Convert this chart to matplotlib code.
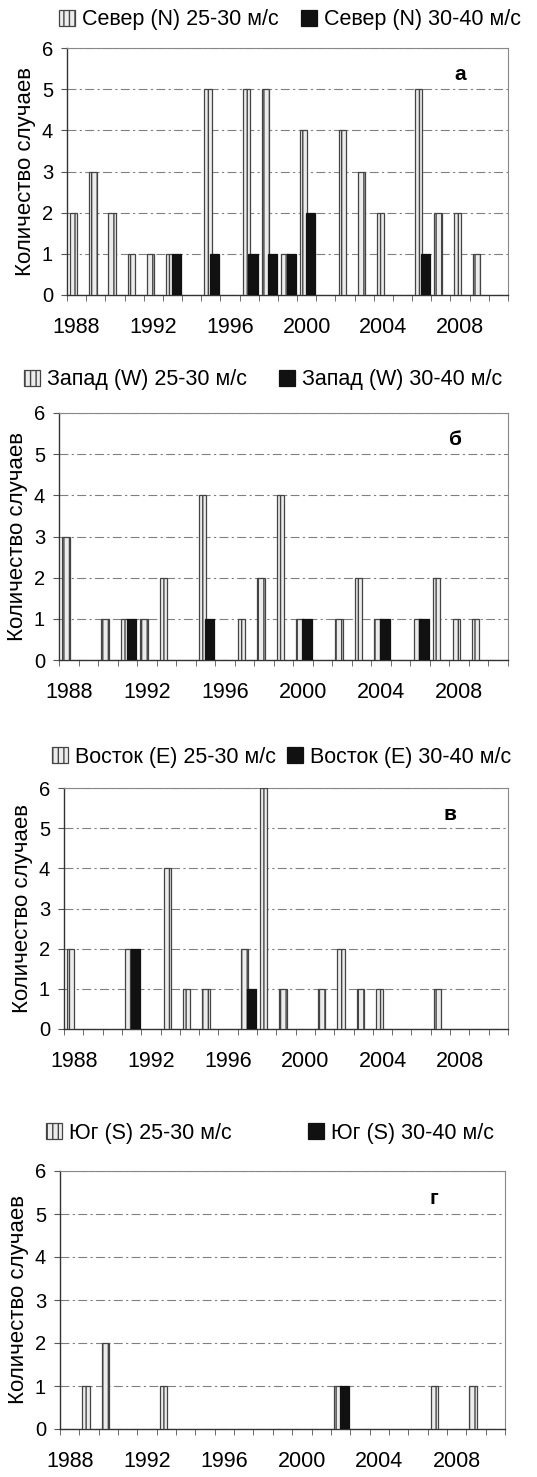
import numpy as np
import matplotlib
matplotlib.use('Agg')
from matplotlib import pyplot as plt
from matplotlib.patches import Patch

plt.rcParams['font.family'] = ['Liberation Sans', 'DejaVu Sans']

years = list(range(1988, 2011))

north_25 = [2, 3, 2, 1, 1, 1, 0, 5, 0, 5, 5, 1, 4, 0, 4, 3, 2, 0, 5, 2, 2, 1, 0]
north_30 = [0, 0, 0, 0, 0, 1, 0, 1, 0, 1, 1, 1, 2, 0, 0, 0, 0, 0, 1, 0, 0, 0, 0]
west_25 = [3, 0, 1, 1, 1, 2, 0, 4, 0, 1, 2, 4, 1, 0, 1, 2, 1, 0, 1, 2, 1, 1, 0]
west_30 = [0, 0, 0, 1, 0, 0, 0, 1, 0, 0, 0, 0, 1, 0, 0, 0, 1, 0, 1, 0, 0, 0, 0]
east_25 = [2, 0, 0, 2, 0, 4, 1, 1, 0, 2, 6, 1, 0, 1, 2, 1, 1, 0, 0, 1, 0, 0, 0]
east_30 = [0, 0, 0, 2, 0, 0, 0, 0, 0, 1, 0, 0, 0, 0, 0, 0, 0, 0, 0, 0, 0, 0, 0]
south_25 = [0, 1, 2, 0, 0, 1, 0, 0, 0, 0, 0, 0, 0, 0, 1, 0, 0, 0, 0, 1, 0, 1, 0]
south_30 = [0, 0, 0, 0, 0, 0, 0, 0, 0, 0, 0, 0, 0, 0, 1, 0, 0, 0, 0, 0, 0, 0, 0]

label_years = [1988, 1992, 1996, 2000, 2004, 2008]

panels = [
    # light, dark, name, letter, letter x, axes box px [l, t, r, b], legend y, legend x of both entries
    (north_25, north_30, 'Север (N)', 'а', 20.0, [67, 48, 508, 295], 20, (59, 301)),
    (west_25, west_30, 'Запад (W)', 'б', 19.8, [59, 413, 508, 660], 380, (24, 279)),
    (east_25, east_30, 'Восток (E)', 'в', 19.5, [64, 788, 508, 1029], 757, (52, 287)),
    (south_25, south_30, 'Юг (S)', 'г', 18.8, [60, 1171, 505, 1429], 1133, (46, 308)),
]

W, H = 537, 1477
fig = plt.figure(figsize=(W / 100, H / 100), dpi=100)

light_kw = dict(facecolor='#ececec', edgecolor='#444444', hatch='|||', linewidth=0.9)
dark_kw = dict(facecolor='#111111', edgecolor='#111111', linewidth=0.9)

x = np.arange(len(years))

for light, dark, name, letter, letter_x, box, leg_y, leg_x in panels:
    l, t, r, b = box
    ax = fig.add_axes([l / W, 1 - b / H, (r - l) / W, (b - t) / H])

    light = np.array(light)
    dark = np.array(dark)
    m1 = light > 0
    m2 = dark > 0
    ax.bar(x[m1] - 0.15, light[m1], width=0.38, zorder=3, **light_kw)
    ax.bar(x[m2] + 0.2, dark[m2], width=0.48, zorder=4, **dark_kw)

    ax.set_xlim(-0.5, len(years) - 0.5)
    ax.set_ylim(0, 6)
    ax.set_yticks(range(7))
    ax.set_xticks([years.index(y) for y in label_years])
    ax.set_xticklabels([str(y) for y in label_years], fontsize=15.5)
    ax.set_xticks(np.arange(len(years) + 1) - 0.5, minor=True)
    ax.tick_params(axis='x', which='major', length=0, pad=16)
    ax.tick_params(axis='x', which='minor', length=4, direction='out', color='#555555')
    ax.tick_params(axis='y', length=4, direction='out', labelsize=14.5, color='#555555', pad=6)

    ax.grid(axis='y', color='#808080', linestyle=(0, (8, 3, 2, 3)), linewidth=0.8, zorder=0)
    for s in ['left', 'bottom']:
        ax.spines[s].set_color('#333333')
        ax.spines[s].set_linewidth(1.0)
    for s in ['top', 'right']:
        ax.spines[s].set_color('#888888')
        ax.spines[s].set_linewidth(0.8)

    ax.set_ylabel('Количество случаев', fontsize=16, labelpad=4)
    ax.text(letter_x, 5.35, letter, fontsize=15, fontweight='bold', ha='center', va='center')

    # one legend box per entry so each can sit at its own x
    for handle_kw, label, lx in zip([light_kw, dark_kw],
                                    [name + ' 25-30 м/с', name + ' 30-40 м/с'], leg_x):
        fig.legend([Patch(**handle_kw)], [label], loc='center left',
                   bbox_to_anchor=(lx / W, 1 - leg_y / H), frameon=False, fontsize=15.5,
                   handlelength=0.75, handleheight=0.75, handletextpad=0.3,
                   borderpad=0, borderaxespad=0)

fig.savefig('out.png', dpi=100)
